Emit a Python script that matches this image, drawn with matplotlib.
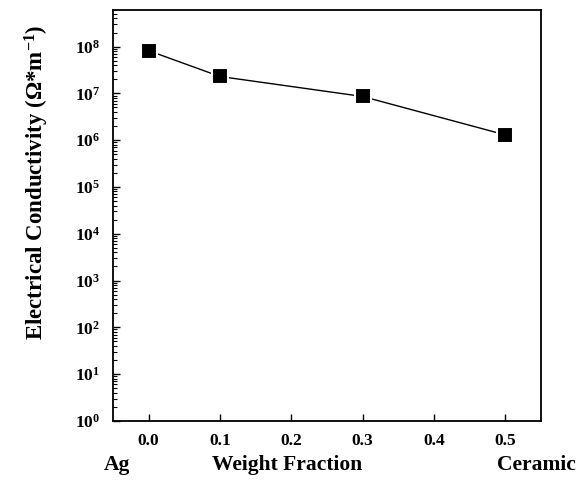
import numpy as np
import matplotlib.pyplot as plt
from matplotlib.ticker import LogLocator, FixedLocator

# weight fraction of ceramic vs electrical conductivity
fraction = [0.0, 0.1, 0.3, 0.5]
conductivity = [8.2e7, 2.3e7, 8.6e6, 1.3e6]
x_ticks = [0.0, 0.1, 0.2, 0.3, 0.4, 0.5]

plt.rcParams["font.family"] = ["Liberation Serif", "DejaVu Serif"]
plt.rcParams["font.weight"] = "bold"
plt.rcParams["mathtext.fontset"] = "custom"
plt.rcParams["mathtext.rm"] = "Liberation Serif:bold"
plt.rcParams["mathtext.it"] = "Liberation Serif:bold"
plt.rcParams["mathtext.bf"] = "Liberation Serif:bold"

fig = plt.figure(figsize=(5.79, 4.86), dpi=100)
ax = fig.add_axes([0.195, 0.134, 0.739, 0.845])

ax.plot(fraction, conductivity, color="black", linewidth=1.0,
        marker="s", markersize=11, markerfacecolor="black",
        markeredgecolor="white", markeredgewidth=1.5)

ax.set_yscale("log")
ax.set_xlim(-0.05, 0.55)
ax.set_ylim(1, 6e8)

ax.xaxis.set_major_locator(FixedLocator(x_ticks))
ax.set_xticklabels([f"{v:.1f}" for v in x_ticks])
ax.yaxis.set_major_locator(LogLocator(base=10, numticks=20))
ax.yaxis.set_minor_locator(LogLocator(base=10, subs=np.arange(2, 10), numticks=20))

ax.tick_params(axis="both", which="both", direction="in", top=False, right=False)
ax.tick_params(axis="x", which="major", length=5, width=1, labelsize=12.5, pad=9)
ax.tick_params(axis="y", which="major", length=5, width=1, labelsize=12.5, pad=9)
ax.tick_params(axis="y", which="minor", length=3, width=0.8)
ax.tick_params(axis="x", which="minor", bottom=False)

for s in ax.spines.values():
    s.set_linewidth(1.3)

ax.set_ylabel(r"Electrical Conductivity ($\Omega$*m$^{\mathbf{-1}}$)",
              fontsize=16.5, fontweight="bold")
ax.yaxis.set_label_coords(-0.145, 0.58)

fig.text(0.202, 0.033, "Ag", fontsize=15.5, fontweight="bold", ha="center")
fig.text(0.496, 0.033, "Weight Fraction", fontsize=15.5, fontweight="bold", ha="center")
fig.text(0.927, 0.033, "Ceramic", fontsize=15.5, fontweight="bold", ha="center")

fig.savefig("out.png", dpi=100)
